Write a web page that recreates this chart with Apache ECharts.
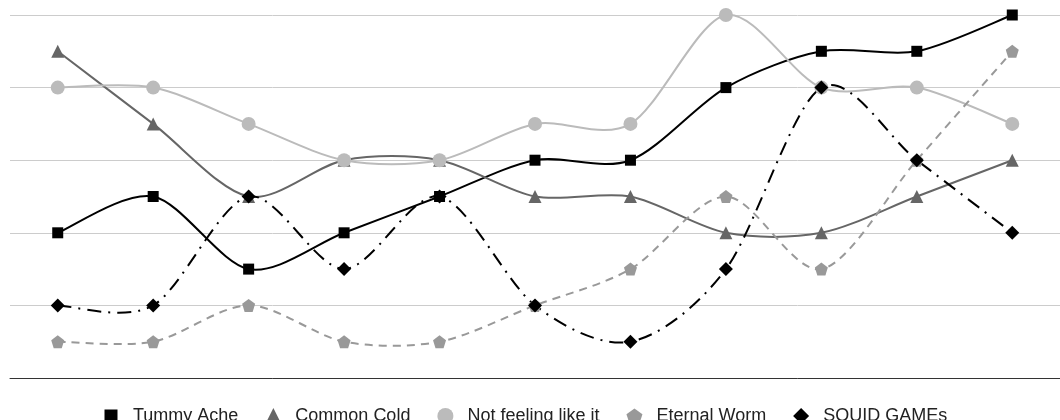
<!DOCTYPE html>
<html><head><meta charset="utf-8">
<script src="https://cdn.jsdelivr.net/npm/echarts@6/dist/echarts.min.js"></script>
<style>html,body{margin:0;padding:0;background:#fff}#c{width:1060px;height:420px}</style>
</head><body><div id="c"></div>
<script>
const categories = ['1','2','3','4','5','6','7','8','9','10','11'];
const tummyAche = [2, 2.5, 1.5, 2, 2.5, 3, 3, 4, 4.5, 4.5, 5];
const commonCold = [4.5, 3.5, 2.5, 3, 3, 2.5, 2.5, 2, 2, 2.5, 3];
const notFeeling = [4, 4, 3.5, 3, 3, 3.5, 3.5, 5, 4, 4, 3.5];
const eternalWorm = [0.5, 0.5, 1, 0.5, 0.5, 1, 1.5, 2.5, 1.5, 3, 4.5];
const squidGames = [1, 1, 2.5, 1.5, 2.5, 1, 0.5, 1.5, 4, 3, 2];

const pentagon = 'path://M0,-10 L9.51,-3.09 L5.88,8.09 L-5.88,8.09 L-9.51,-3.09 Z';
const legendSquare = 'path://M0,0 M16,16 M1.5,1.5 L14.5,1.5 L14.5,14.5 L1.5,14.5 Z';
const T = 0.15;
const chart = echarts.init(document.getElementById('c'));

function curve(name, arr, color, width, dash) {
  return {
    name, type: 'custom', coordinateSystem: 'cartesian2d', clip: false, z: 2,
    data: [[0, arr[0]]], silent: true,
    renderItem: function (params, api) {
      const p = arr.map((v, i) => api.coord([i, v]));
      let d = 'M' + p[0][0] + ' ' + p[0][1];
      for (let i = 0; i < p.length - 1; i++) {
        const a = p[Math.max(i - 1, 0)], b = p[i], c = p[i + 1], e = p[Math.min(i + 2, p.length - 1)];
        const c1 = [b[0] + (c[0] - a[0]) * T, b[1] + (c[1] - a[1]) * T];
        const c2 = [c[0] - (e[0] - b[0]) * T, c[1] - (e[1] - b[1]) * T];
        d += ' C' + c1[0] + ' ' + c1[1] + ' ' + c2[0] + ' ' + c2[1] + ' ' + c[0] + ' ' + c[1];
      }
      return { type: 'path', shape: { pathData: d },
        style: { fill: null, stroke: color, lineWidth: width, lineDash: dash || null } };
    }
  };
}
function marks(name, data, color, symbol, size) {
  return { name, type: 'line', data, symbol, symbolSize: size, z: 5,
    itemStyle: { color }, lineStyle: { width: 0, opacity: 0, color },
    emphasis: { disabled: true } };
}
chart.setOption({
  animation: false,
  grid: { left: 10, top: 15, width: 1060, height: 363 },
  xAxis: { type: 'category', data: categories, boundaryGap: true,
    axisLine: { lineStyle: { color: '#333', width: 1 } }, axisTick: { show: false }, axisLabel: { show: false } },
  yAxis: { type: 'value', min: 0, max: 5, interval: 1, axisLabel: { show: false },
    splitLine: { lineStyle: { color: '#ccc', width: 1 } } },
  legend: { left: 98, top: 402, itemGap: 27, itemWidth: 16, itemHeight: 16,
    textStyle: { fontFamily: 'Liberation Sans, Arial', fontSize: 18, color: '#222', padding: [0, 0, 0, 9] },
    data: [
      { name: 'Tummy Ache', icon: legendSquare },
      { name: 'Common Cold', icon: 'triangle' },
      { name: 'Not feeling like it', icon: 'circle' },
      { name: 'Eternal Worm', icon: pentagon },
      { name: 'SQUID GAMEs', icon: 'diamond' }
    ] },
  series: [
    marks('Tummy Ache', tummyAche, '#000000', 'rect', 11),
    marks('Common Cold', commonCold, '#666666', 'triangle', 13),
    marks('Not feeling like it', notFeeling, '#bbbbbb', 'circle', 14),
    marks('Eternal Worm', eternalWorm, '#999999', pentagon, 13),
    marks('SQUID GAMEs', squidGames, '#000000', 'diamond', 14),
    curve('Tummy Ache', tummyAche, '#000000', 2),
    curve('Common Cold', commonCold, '#666666', 2),
    curve('Not feeling like it', notFeeling, '#bbbbbb', 2),
    curve('Eternal Worm', eternalWorm, '#999999', 2, [8, 6]),
    curve('SQUID GAMEs', squidGames, '#000000', 2, [14, 7, 2, 7])
  ]
});
</script></body></html>
